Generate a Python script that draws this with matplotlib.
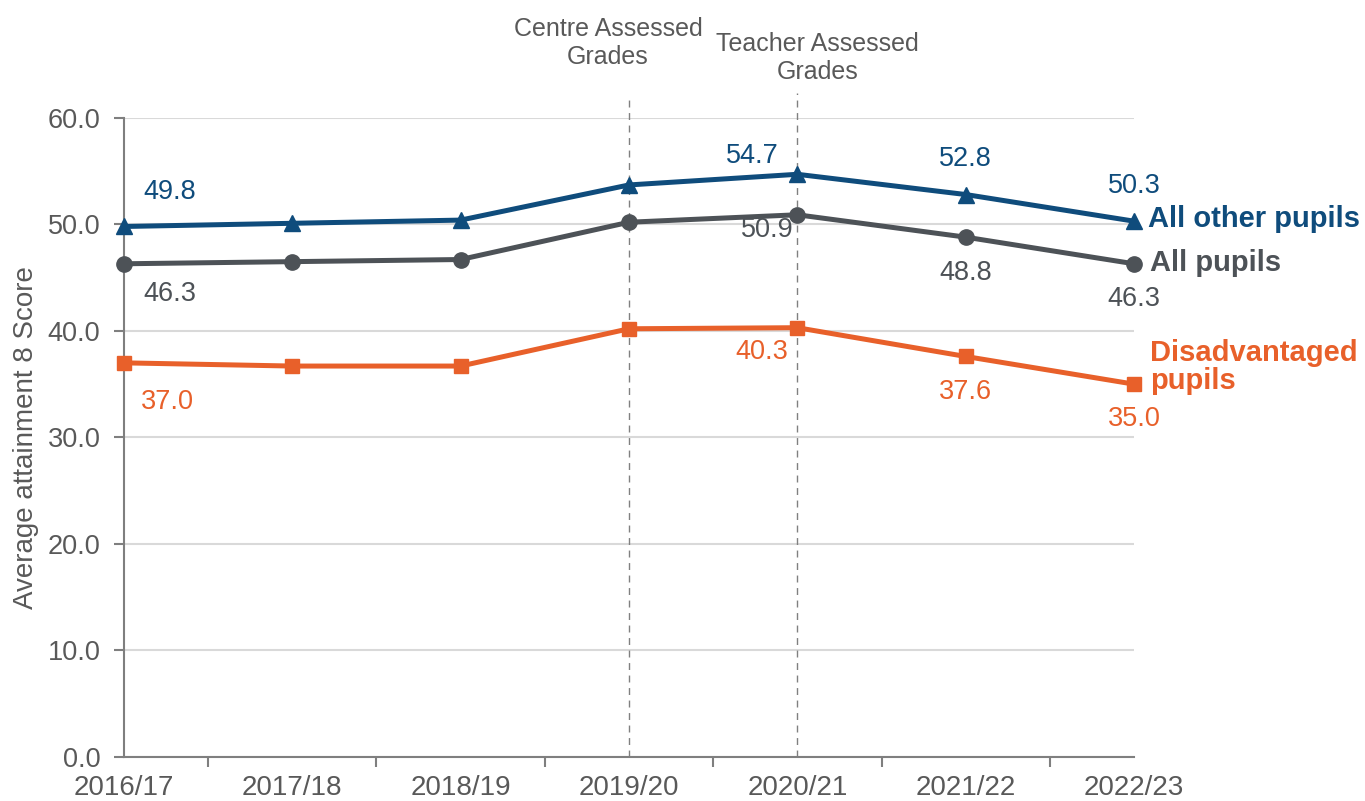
import numpy as np
import matplotlib.pyplot as plt

plt.rcParams['font.family'] = ['Liberation Sans', 'DejaVu Sans']

years = ["2016/17", "2017/18", "2018/19", "2019/20", "2020/21", "2021/22", "2022/23"]
all_other = [49.8, 50.1, 50.4, 53.7, 54.7, 52.8, 50.3]
all_pupils = [46.3, 46.5, 46.7, 50.2, 50.9, 48.8, 46.3]
disadv = [37.0, 36.7, 36.7, 40.2, 40.3, 37.6, 35.0]

# which points carry a value label: index -> (dx, dy) offset in data units
lab_other = {0: (0.27, 3.2), 4: (-0.27, 1.7), 5: (0.0, 3.3), 6: (0.0, 3.3)}
lab_all = {0: (0.27, -2.8), 4: (-0.18, -1.4), 5: (0.0, -3.4), 6: (0.0, -3.3)}
lab_dis = {0: (0.26, -3.7), 4: (-0.21, -2.25), 5: (0.0, -3.3), 6: (0.0, -3.3)}

c_blue = "#0f4c7c"
c_grey = "#4d5257"
c_orange = "#e8602a"
c_text = "#595959"

x = np.arange(len(years))

fig = plt.figure(figsize=(13.65, 8.01), dpi=100)
ax = fig.add_axes([0.0908, 0.0549, 0.74, 0.798])

# gridlines
ax.set_ylim(0, 60)
ax.set_xlim(0, len(years) - 1)
ax.set_yticks(np.arange(0, 61, 10))
ax.yaxis.grid(True, color="#d9d9d9", linewidth=1.5)
ax.set_axisbelow(True)

# dashed markers for assessment years
ax.vlines(3, 0, 61.7, colors="#808080", linestyles=(0, (5, 4)), linewidth=1, clip_on=False)
ax.vlines(4, 0, 62.3, colors="#808080", linestyles=(0, (5, 4)), linewidth=1, clip_on=False)
ax.text(2.875, 67.0, "Centre Assessed\nGrades", ha="center", va="center", fontsize=18,
        color=c_text, linespacing=1.2)
ax.text(4.12, 65.6, "Teacher Assessed\nGrades", ha="center", va="center", fontsize=18,
        color=c_text, linespacing=1.2)

# lines
ax.plot(x, all_other, color=c_blue, linewidth=3.6, marker="^", markersize=11, clip_on=False, zorder=3)
ax.plot(x, all_pupils, color=c_grey, linewidth=3.6, marker="o", markersize=11, clip_on=False, zorder=3)
ax.plot(x, disadv, color=c_orange, linewidth=3.6, marker="s", markersize=10.5, clip_on=False, zorder=3)

# data labels
fs = 19.5
for vals, labs, col in [(all_other, lab_other, c_blue),
                        (all_pupils, lab_all, c_grey),
                        (disadv, lab_dis, c_orange)]:
    for i, (dx, dy) in labs.items():
        ax.text(x[i] + dx, vals[i] + dy, f"{vals[i]:.1f}", ha="center", va="center",
                color=col, fontsize=fs)

# series labels
ax.text(x[6] + 0.08, all_other[6] + 0.2, "All other pupils", color=c_blue, fontsize=21,
        fontweight="bold", va="center", ha="left")
ax.text(x[6] + 0.095, all_pupils[6] + 0.1, "All pupils", color=c_grey, fontsize=21,
        fontweight="bold", va="center", ha="left")
ax.text(x[6] + 0.095, disadv[6] + 1.6, "Disadvantaged\npupils", color=c_orange, fontsize=21,
        fontweight="bold", va="center", ha="left", linespacing=1.0)

# axes styling
for s in ["top", "right"]:
    ax.spines[s].set_visible(False)
for s in ["left", "bottom"]:
    ax.spines[s].set_color("#7f7f7f")
    ax.spines[s].set_linewidth(1.5)

ax.set_yticklabels([f"{v:.1f}" for v in np.arange(0, 61, 10)])
ax.tick_params(axis="y", colors="#7f7f7f", labelcolor=c_text, labelsize=19.5, length=7, width=1.5, pad=10)
ax.set_xticks(x)
ax.set_xticklabels(years)
ax.tick_params(axis="x", which="major", length=0, labelcolor=c_text, labelsize=20, pad=13)
ax.set_xticks(list(np.arange(0.5, 6, 1)) + [6], minor=True)
ax.tick_params(axis="x", which="minor", length=7, width=1.5, colors="#7f7f7f")

ax.set_ylabel("Average attainment 8 Score", fontsize=20, color=c_text, labelpad=6)

fig.savefig("out.png", dpi=100)
